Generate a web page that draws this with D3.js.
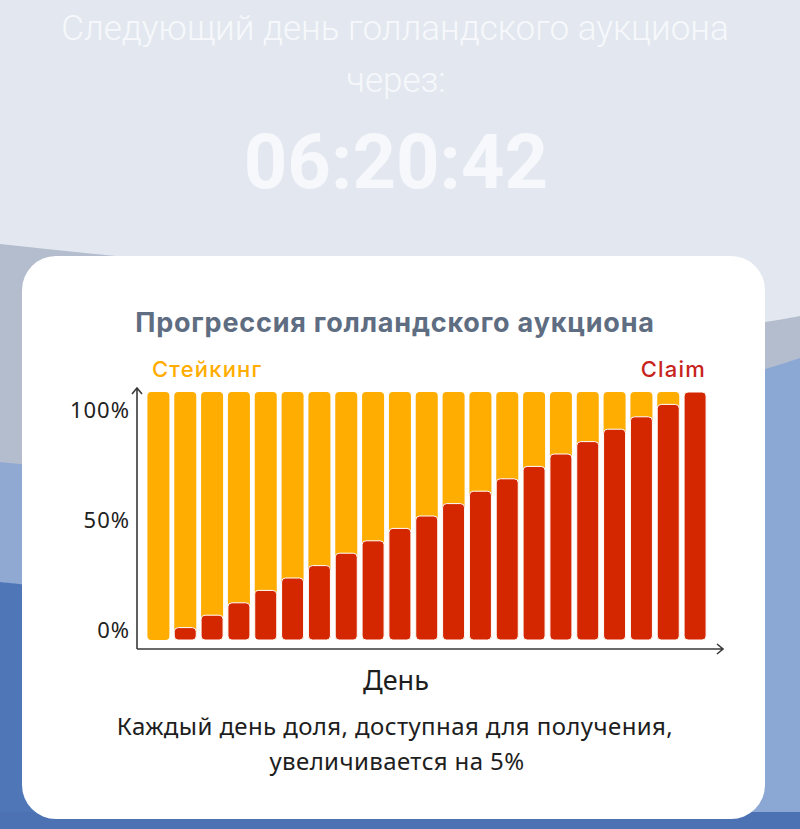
<!DOCTYPE html>
<html>
<head>
<meta charset="utf-8">
<script src="https://cdn.jsdelivr.net/npm/d3@7"></script>
<style>
  html, body { margin: 0; padding: 0; background: #e3e8f0; }
  svg { display: block; }
</style>
</head>
<body>
<div id="chart"></div>
<script>
// Дані графіка
const days = [1, 2, 3, 4, 5, 6, 7, 8, 9, 10, 11, 12, 13, 14, 15, 16, 17, 18, 19, 20, 21];
const claimShare = [0, 5, 10, 15, 20, 25, 30, 35, 40, 45, 50, 55, 60, 65, 70, 75, 80, 85, 90, 95, 100];
const yTicks = [0, 50, 100];

const W = 800, H = 829;

const svg = d3.select("#chart")
    .append("svg")
    .attr("width", W)
    .attr("height", H);

// Фон з хвилями
svg.append("rect").attr("width", W).attr("height", H).attr("fill", "#e3e8f0");
svg.append("path")
    .attr("d", "M0,244 C60,250 120,258 200,262 L200,829 L0,829 Z")
    .attr("fill", "#b3bdcd");
svg.append("path")
    .attr("d", "M0,462 C40,466 80,470 200,478 L200,829 L0,829 Z")
    .attr("fill", "#8fa9d3");
svg.append("path")
    .attr("d", "M0,582 C40,586 80,592 200,600 L200,829 L0,829 Z")
    .attr("fill", "#4f77b8");
svg.append("path")
    .attr("d", "M600,338 C680,332 740,328 800,316 L800,829 L600,829 Z")
    .attr("fill", "#b3bdcd");
svg.append("path")
    .attr("d", "M600,402 C680,394 740,378 800,358 L800,829 L600,829 Z")
    .attr("fill", "#8ba7d3");
svg.append("path")
    .attr("d", "M0,812 L800,812 L800,829 L0,829 Z")
    .attr("fill", "#4c72b3");

// Заголовок зверху
const header = svg.append("g")
    .attr("font-family", "Roboto, sans-serif")
    .attr("fill", "#f6f8fb")
    .attr("text-anchor", "middle");
header.append("text").attr("x", 395).attr("y", 40)
    .attr("font-size", 35).attr("font-weight", 300)
    .text("Следующий день голландского аукциона");
header.append("text").attr("x", 396).attr("y", 92)
    .attr("font-size", 35).attr("font-weight", 300)
    .text("через:");
header.append("text").attr("x", 396).attr("y", 188)
    .attr("font-size", 76).attr("font-weight", 700)
    .text("06:20:42");

// Картка
svg.append("rect")
    .attr("x", 22).attr("y", 256)
    .attr("width", 743).attr("height", 563)
    .attr("rx", 34)
    .attr("fill", "#ffffff");

// Шкали
const x = d3.scaleBand()
    .domain(days)
    .range([145, 708.5])
    .paddingInner(0.18)
    .paddingOuter(0.09);

const y = d3.scaleLinear()
    .domain([0, 100])
    .range([640, 392]);

const yLabel = d3.scaleLinear()
    .domain([0, 100])
    .range([630, 410]);

const chart = svg.append("g");

// Стовпчики: стейкинг (фон) і claim
chart.selectAll("rect.stake")
    .data(days)
    .enter()
    .append("rect")
    .attr("class", "stake")
    .attr("x", d => x(d))
    .attr("y", y(100))
    .attr("width", x.bandwidth())
    .attr("height", y(0) - y(100))
    .attr("rx", 4)
    .attr("fill", "#ffad00");

chart.selectAll("rect.claim")
    .data(days.filter((d, i) => claimShare[i] > 0))
    .enter()
    .append("rect")
    .attr("class", "claim")
    .attr("x", d => x(d))
    .attr("y", d => y(claimShare[days.indexOf(d)]))
    .attr("width", x.bandwidth())
    .attr("height", d => y(0) - y(claimShare[days.indexOf(d)]))
    .attr("rx", 4)
    .attr("fill", "#d42700")
    .attr("stroke", "#ffffff")
    .attr("stroke-width", 1);

// Осі зі стрілками
const axisColor = "#3a3a3a";
const axX = 137, axY = 649;
svg.append("path")
    .attr("d", `M${axX},${axY} L${axX},388 M${axX - 5},394 L${axX},388 L${axX + 5},394`)
    .attr("fill", "none").attr("stroke", axisColor).attr("stroke-width", 1.6);
svg.append("path")
    .attr("d", `M${axX},${axY} L723,${axY} M717,${axY - 5} L723,${axY} L717,${axY + 5}`)
    .attr("fill", "none").attr("stroke", axisColor).attr("stroke-width", 1.6);

// Підписи осі Y
const yAxis = svg.append("g")
    .attr("transform", "translate(130,0)")
    .call(d3.axisLeft(yLabel).tickValues(yTicks).tickSize(0).tickPadding(0).tickFormat(d => d + "%"));
yAxis.select(".domain").remove();
yAxis.selectAll("text")
    .attr("font-family", "'Noto Sans', sans-serif")
    .attr("font-size", 22)
    .attr("letter-spacing", 1)
    .attr("fill", "#222");

// Тексти
svg.append("text")
    .attr("x", 395).attr("y", 332)
    .attr("text-anchor", "middle")
    .attr("font-family", "Inter, sans-serif")
    .attr("font-weight", 700)
    .attr("font-size", 27)
    .attr("letter-spacing", 0.8)
    .attr("fill", "#5e6d81")
    .text("Прогрессия голландского аукциона");

svg.append("text")
    .attr("x", 152).attr("y", 377)
    .attr("font-family", "Inter, sans-serif")
    .attr("font-weight", 500)
    .attr("font-size", 22)
    .attr("letter-spacing", 1.2)
    .attr("fill", "#ffad00")
    .text("Стейкинг");

svg.append("text")
    .attr("x", 706).attr("y", 377)
    .attr("text-anchor", "end")
    .attr("font-family", "Inter, sans-serif")
    .attr("font-weight", 500)
    .attr("font-size", 22)
    .attr("letter-spacing", 1.2)
    .attr("fill", "#c8231c")
    .text("Claim");

svg.append("text")
    .attr("x", 396).attr("y", 690)
    .attr("text-anchor", "middle")
    .attr("font-family", "'Noto Sans', sans-serif")
    .attr("font-size", 27)
    .attr("fill", "#1e1e1e")
    .text("День");

const caption = svg.append("g")
    .attr("font-family", "'Noto Sans', sans-serif")
    .attr("font-size", 24)
    .attr("letter-spacing", 0.4)
    .attr("fill", "#1e1e1e")
    .attr("text-anchor", "middle");
caption.append("text").attr("x", 395).attr("y", 735)
    .text("Каждый день доля, доступная для получения,");
caption.append("text").attr("x", 397).attr("y", 770)
    .text("увеличивается на 5%");
</script>
</body>
</html>
